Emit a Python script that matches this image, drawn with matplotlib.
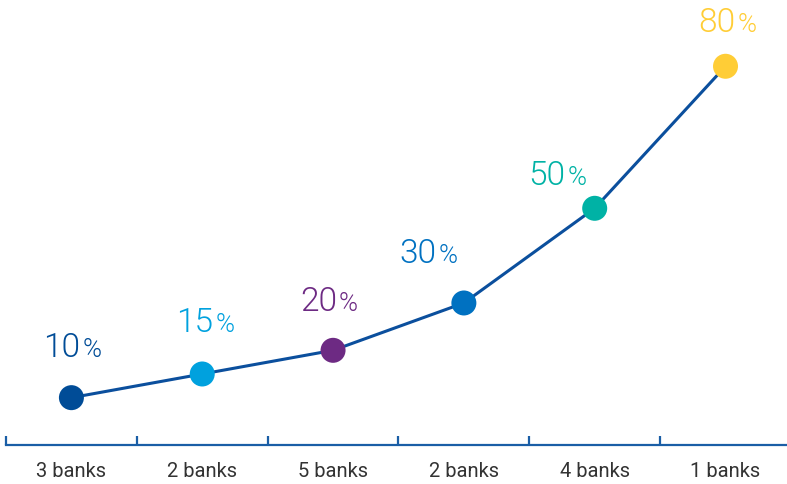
import numpy as np
import matplotlib.pyplot as plt

# categories and values
banks = ['3 banks', '2 banks', '5 banks', '2 banks', '4 banks', '1 banks']
shares = [10, 15, 20, 30, 50, 80]
dot_colors = ['#004c97', '#00a1de', '#6d2a83', '#0071c1', '#00b2a5', '#ffcd36']

line_color = '#0b4f9d'
# where each label sits relative to its dot (pixels: right edge of number, baseline)
label_off = [(9, 41), (11, 42), (4, 39), (-27, 40), (-29, 23), (10, 34)]

plt.rcParams['font.family'] = ['Roboto', 'DejaVu Sans']

fig = plt.figure(figsize=(7.87, 4.84), dpi=100)
ax = fig.add_axes([6 / 787, 39 / 484, 781 / 787, 445 / 484])

x = np.arange(len(shares))
ax.plot(x, shares, color=line_color, lw=2.2, zorder=2)
ax.scatter(x, shares, s=18 ** 2, c=dot_colors, zorder=3, linewidths=0)

for xi, v, c, (dx, dy) in zip(x, shares, dot_colors, label_off):
    ax.annotate(str(v), (xi, v), xytext=(dx, dy), textcoords='offset pixels',
                ha='right', va='baseline', fontsize=24, color=c, fontweight=300)
    ax.annotate('%', (xi, v), xytext=(dx + 2, dy), textcoords='offset pixels',
                ha='left', va='baseline', fontsize=18.5, color=c, fontweight=300)

ax.set_xlim(-0.5, 5.47)
ax.set_ylim(0, 94)

for s in ['top', 'right', 'left']:
    ax.spines[s].set_visible(False)
ax.spines['bottom'].set_color('#1a5ea6')
ax.spines['bottom'].set_linewidth(1.6)

ax.set_yticks([])
ax.set_xticks(x)
ax.set_xticklabels(banks, fontsize=14.5, color='#333333')
ax.tick_params(axis='x', which='major', length=0, pad=12.5)
ax.set_xticks(np.arange(-0.5, 5.0, 1), minor=True)
ax.tick_params(axis='x', which='minor', direction='in', length=6.5, width=1.6,
               color='#1a5ea6')

fig.savefig('out.png', dpi=100)
